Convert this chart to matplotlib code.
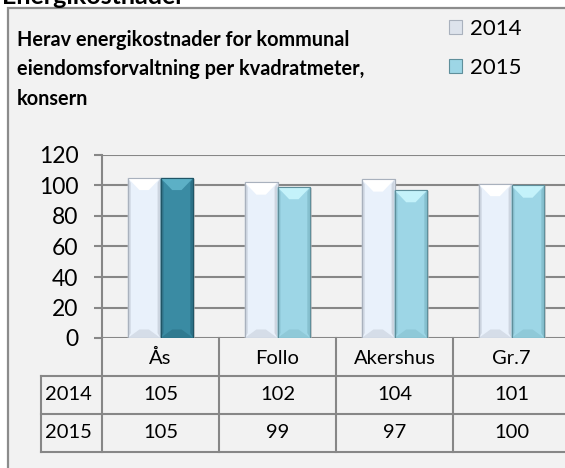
import numpy as np
import matplotlib
matplotlib.use("Agg")
import matplotlib.pyplot as plt
from matplotlib.patches import Rectangle, Polygon, Patch
from matplotlib.lines import Line2D

plt.rcParams['font.family'] = ['Lato', 'DejaVu Sans']

# Energikostnader per kvadratmeter
kategorier = ['Ås', 'Follo', 'Akershus', 'Gr.7']
ar = ['2014', '2015']
verdier_2014 = [105, 102, 104, 101]
verdier_2015 = [105, 99, 97, 100]

W, H = 565, 468
fig = plt.figure(figsize=(W / 100, H / 100), dpi=100)
fig.patch.set_facecolor('white')


def fx(px):
    return px / W


def fy(py):
    return 1 - py / H


# ramme rundt diagrammet
fig.patches.append(Rectangle((fx(8), fy(480)), fx(600), fy(8) - fy(480),
                             transform=fig.transFigure, fc='#f2f2f2',
                             ec='#8c8c8c', lw=1.6, zorder=-5))

fig.text(fx(2), fy(4), 'Energikostnader', fontsize=18, fontweight='bold',
         va='baseline', ha='left')
fig.text(fx(17), fy(30), 'Herav energikostnader for kommunal\n'
         'eiendomsforvaltning per kvadratmeter,\nkonsern',
         fontsize=14.3, fontweight='bold', va='top', ha='left', linespacing=1.58)

ax_left, ax_right, ax_top, ax_bot = 102, 570, 155, 338
ax = fig.add_axes([fx(ax_left), fy(ax_bot), fx(ax_right - ax_left), fy(ax_top) - fy(ax_bot)])
ax.set_zorder(2)
ax.set_facecolor('none')
ax.set_xlim(-0.5, len(kategorier) - 0.5)
ax.set_ylim(0, 120)
ax.set_yticks(range(0, 121, 20))
ax.yaxis.grid(True, color='#878787', lw=1.5)
ax.set_axisbelow(True)
ax.set_xticks([])
for s in ['top', 'right', 'bottom']:
    ax.spines[s].set_visible(False)
ax.spines['left'].set_color('#878787')
ax.spines['left'].set_linewidth(1.5)
ax.tick_params(axis='y', length=6, width=1.5, color='#878787', labelsize=16.5, pad=11)

bredde = 0.28
x = np.arange(len(kategorier))

farger_2014 = dict(body='#e9f1fb', top='#ffffff', side='#cdd5e0', bunn='#d5dde8', kant='#a9b1bd')
farger_2015 = dict(body='#9dd6e6', top='#c4f2fa', side='#86c0cf', bunn='#8fc9d8', kant='#5f8f9b')
farger_as = dict(body='#3a8ba3', top='#5cb0c6', side='#2c7187', bunn='#2f7a90', kant='#205566')


def bevel_bar(ax, xc, h, f):
    x0, x1 = xc - bredde / 2, xc + bredde / 2
    bx = 0.1            # innrykk for skråkant
    sx = 0.025
    by = 8.0            # høyde på skråkant (dataenheter)
    # svak skygge til høyre
    ax.add_patch(Rectangle((x0 + 0.015, 0), bredde, h - 0.6, fc='#b8b8b8', ec='none',
                           alpha=0.6, zorder=2.5))
    ax.add_patch(Rectangle((x0, 0), bredde, h, fc=f['body'], ec=f['kant'], lw=0.8, zorder=3))
    ax.add_patch(Polygon([(x0, 0), (x0 + sx, by * 0.4), (x0 + sx, h - by * 0.4), (x0, h)],
                         fc=f['side'], ec='none', zorder=3))
    ax.add_patch(Polygon([(x1, 0), (x1 - sx, by * 0.4), (x1 - sx, h - by * 0.4), (x1, h)],
                         fc=f['side'], ec='none', zorder=3))
    ax.add_patch(Polygon([(x0, h), (x1, h), (x1 - bx, h - by), (x0 + bx, h - by)],
                         fc=f['top'], ec='none', zorder=3))
    ax.add_patch(Polygon([(x0, 0), (x1, 0), (x1 - bx, by * 0.7), (x0 + bx, by * 0.7)],
                         fc=f['bunn'], ec='none', zorder=3))
    ax.add_patch(Rectangle((x0, 0), bredde, h, fc='none', ec=f['kant'], lw=0.8, zorder=4))


for i in range(len(kategorier)):
    bevel_bar(ax, x[i] - bredde / 2, verdier_2014[i], farger_2014)
    bevel_bar(ax, x[i] + bredde / 2, verdier_2015[i], farger_as if i == 0 else farger_2015)

# datatabell under aksen
rad_y = [338, 376, 414, 452]
tcol = '#878787'
xs = [ax_left + (ax_right - ax_left) * k / len(kategorier) for k in range(len(kategorier) + 1)]
for xv in xs:
    fig.lines.append(Line2D([fx(xv), fx(xv)], [fy(338), fy(452)], transform=fig.transFigure,
                            color=tcol, lw=1.5))
fig.lines.append(Line2D([fx(41), fx(41)], [fy(376), fy(452)], transform=fig.transFigure,
                        color=tcol, lw=1.5))
for yv in rad_y[1:]:
    fig.lines.append(Line2D([fx(41), fx(ax_right)], [fy(yv), fy(yv)], transform=fig.transFigure,
                            color=tcol, lw=1.5))

fs_tab = 14.5
for k, navn in enumerate(kategorier):
    xc = (xs[k] + xs[k + 1]) / 2
    fig.text(fx(xc), fy((rad_y[0] + rad_y[1]) / 2 + 1), navn, ha='center', va='center', fontsize=fs_tab)
    fig.text(fx(xc), fy((rad_y[1] + rad_y[2]) / 2), str(verdier_2014[k]), ha='center', va='center', fontsize=fs_tab)
    fig.text(fx(xc), fy((rad_y[2] + rad_y[3]) / 2), str(verdier_2015[k]), ha='center', va='center', fontsize=fs_tab)
fig.text(fx(68), fy((rad_y[1] + rad_y[2]) / 2), ar[0], ha='center', va='center', fontsize=fs_tab)
fig.text(fx(68), fy((rad_y[2] + rad_y[3]) / 2), ar[1], ha='center', va='center', fontsize=fs_tab)

# forklaring
handles = [Patch(fc='#dde3ec', ec='#a9b1bd', lw=0.8), Patch(fc='#9dd6e6', ec='#5f8f9b', lw=0.8)]
fig.legend(handles, ar, loc='upper left', bbox_to_anchor=(fx(440), fy(10)), frameon=False,
           fontsize=16, handlelength=0.6, handleheight=0.6, handletextpad=0.35,
           labelspacing=0.85, borderaxespad=0)

fig.savefig('out.png', dpi=100, facecolor='white')
